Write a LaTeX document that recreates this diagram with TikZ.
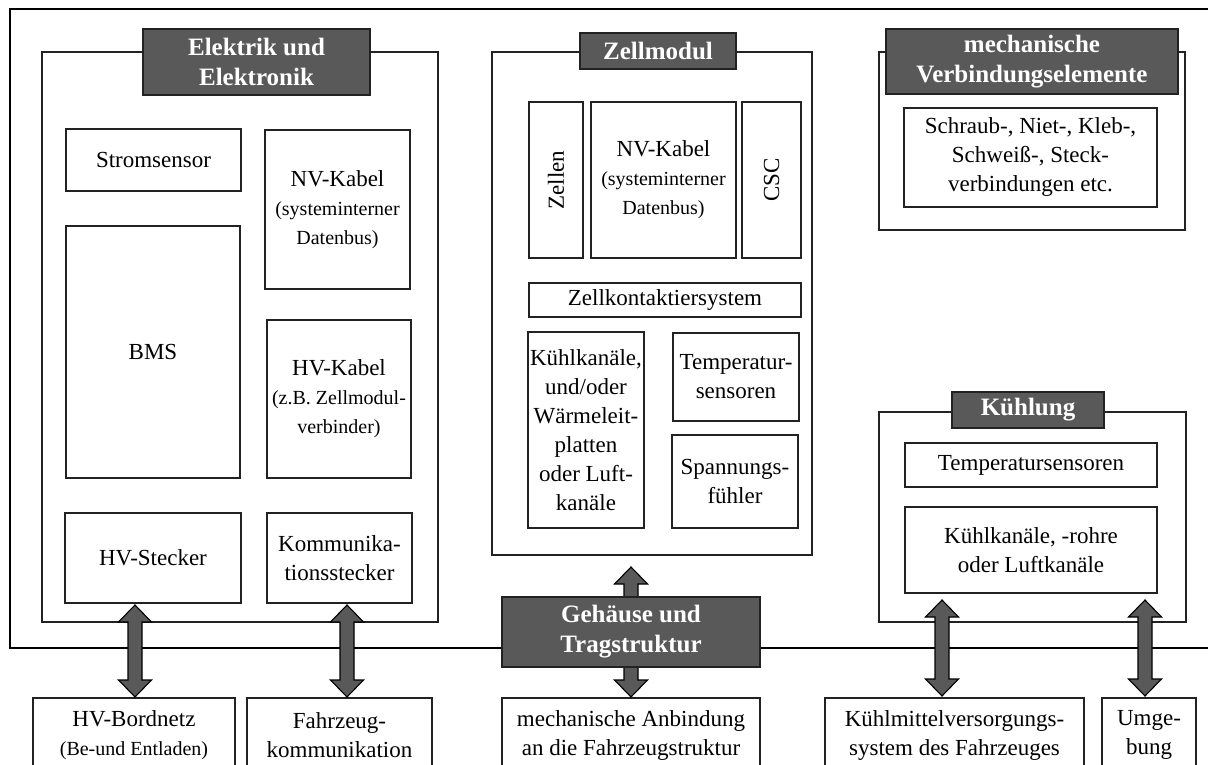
\documentclass[tikz,border=0pt]{standalone}
\usepackage{fontspec}
\setmainfont{Liberation Serif}
\usetikzlibrary{calc}
\definecolor{titlegray}{HTML}{595959}
\definecolor{linegray}{HTML}{222222}
\tikzset{
  box/.style={draw=linegray, line width=1.1pt, fill=white, align=center, inner sep=1pt,
    font=\fontsize{23}{29}\selectfont},
  cont/.style={draw=linegray, line width=1.1pt},
  titlebox/.style={draw=linegray, line width=1.2pt, fill=titlegray, text=white,
    font=\bfseries\fontsize{25}{30}\selectfont, align=center, inner sep=0pt},
  frameline/.style={line width=2pt, draw=black},
  fatarr/.style={fill=titlegray, draw=black, line width=1.1pt, line join=miter},
}
\newcommand\smtext{\fontsize{20}{25}\selectfont}
\newcommand\fatarrow[2]{%
  \filldraw[fatarr] let \p1=(#1), \p2=(#2) in
    (\x1,\y1) -- (\x1+16.5pt,\y1-17pt) -- (\x1+7pt,\y1-17pt) -- (\x1+7pt,\y2+17pt)
    -- (\x1+16.5pt,\y2+17pt) -- (\x1,\y2) -- (\x1-16.5pt,\y2+17pt) -- (\x1-7pt,\y2+17pt)
    -- (\x1-7pt,\y1-17pt) -- (\x1-16.5pt,\y1-17pt) -- cycle;}
\begin{document}
\begin{tikzpicture}[x=1pt,y=-1pt]
\useasboundingbox (0,0) rectangle (1208,765);
\clip (0,0) rectangle (1208,765);
% outer frame
\draw[frameline] (1210,9) -- (10,9) -- (10,648) -- (1210,648);

% Elektrik und Elektronik
\node[cont, minimum width=396pt, minimum height=570pt] (ee) at (240,337) {};
\node[box, minimum width=175pt, minimum height=62pt] (strom) at (153.5,160) {Stromsensor};
\node[box, minimum width=145pt, minimum height=159pt] (nv1) at (337.5,209.5) {NV-Kabel\\\smtext(systeminterner\\\smtext Datenbus)};
\node[box, minimum width=174pt, minimum height=252pt] (bms) at (153,352) {BMS};
\node[box, minimum width=144pt, minimum height=158pt] (hvk) at (339,399) {HV-Kabel\\\smtext(z.B. Zellmodul-\\\smtext verbinder)};
\node[box, minimum width=176pt, minimum height=90pt] (hvst) at (153,558) {HV-Stecker};
\node[box, minimum width=145pt, minimum height=90pt] (komst) at (339.5,558) {Kommunika-\\tionsstecker};
\node[titlebox, minimum width=227pt, minimum height=66pt] (eet) at (256.5,62) {Elektrik und\\Elektronik};

% Zellmodul
\node[cont, minimum width=320pt, minimum height=503pt] (zm) at (652,303.5) {};
\node[box, rotate=90, minimum width=156pt, minimum height=54pt] (zellen) at (556,180) {Zellen};
\node[box, minimum width=145pt, minimum height=156pt] (nv2) at (663.5,180) {NV-Kabel\\\smtext(systeminterner\\\smtext Datenbus)};
\node[box, rotate=90, minimum width=156pt, minimum height=59pt] (csc) at (771.5,180) {CSC};
\node[box, minimum width=272pt, minimum height=34pt] (zks) at (665,300) {Zellkontaktiersystem};
\node[box, minimum width=116pt, minimum height=196pt] (kk1) at (586,430) {Kühlkanäle,\\und/oder\\Wärmeleit-\\platten\\oder Luft-\\kanäle};
\node[box, minimum width=126pt, minimum height=88pt] (ts1) at (736,377) {Temperatur-\\sensoren};
\node[box, minimum width=126pt, minimum height=93pt] (sf) at (735,481.5) {Spannungs-\\fühler};
\node[titlebox, minimum width=156pt, minimum height=36pt] (zmt) at (658,51) {Zellmodul};

% mechanische Verbindungselemente
\node[cont, minimum width=306pt, minimum height=178pt] (mv) at (1032,141) {};
\node[box, minimum width=253pt, minimum height=99pt] (verb) at (1030.5,157.5) {Schraub-, Niet-, Kleb-,\\Schweiß-, Steck-\\verbindungen etc.};
\node[titlebox, minimum width=292pt, minimum height=65pt] (mvt) at (1032,61.5) {mechanische\\Verbindungselemente};

% Kühlung
\node[cont, minimum width=307pt, minimum height=210pt] (kl) at (1032.5,517) {};
\node[box, minimum width=252pt, minimum height=44pt] (ts2) at (1031,465) {Temperatursensoren};
\node[box, minimum width=252pt, minimum height=86pt] (kk2) at (1031,550) {Kühlkanäle, -rohre\\oder Luftkanäle};
\node[titlebox, minimum width=152pt, minimum height=36pt] (klt) at (1028,410) {Kühlung};

% bottom boxes (cut at the lower edge)
\node[box, minimum width=202pt, minimum height=74pt] (hvbn) at (134,735) {HV-Bordnetz\\\smtext(Be-und Entladen)};
\node[box, minimum width=185pt, minimum height=74pt] (fzk) at (339.5,735) {Fahrzeug-\\kommunikation};
\node[box, minimum width=258pt, minimum height=74pt] (anb) at (631,735) {mechanische Anbindung\\an die Fahrzeugstruktur};
\node[box, minimum width=259pt, minimum height=74pt] (kmv) at (954.5,735) {Kühlmittelversorgungs-\\system des Fahrzeuges};
\node[box, minimum width=94pt, minimum height=74pt] (umg) at (1149,735) {Umge-\\bung};

% arrow end points
\coordinate (a1t) at (135,605);  \coordinate (a1b) at (135,697);
\coordinate (a2t) at (347,605);  \coordinate (a2b) at (347,697);
\coordinate (a3t) at (631,567);  \coordinate (a3b) at (631,697);
\coordinate (a4t) at (942,600);  \coordinate (a4b) at (942,696);
\coordinate (a5t) at (1145,600); \coordinate (a5b) at (1145,696);
\fatarrow{a1t}{a1b}
\fatarrow{a2t}{a2b}
\fatarrow{a3t}{a3b}
\fatarrow{a4t}{a4b}
\fatarrow{a5t}{a5b}

% Gehäuse und Tragstruktur
\node[titlebox, minimum width=258pt, minimum height=70pt] (geh) at (631,632) {Gehäuse und\\Tragstruktur};
\end{tikzpicture}
\end{document}
